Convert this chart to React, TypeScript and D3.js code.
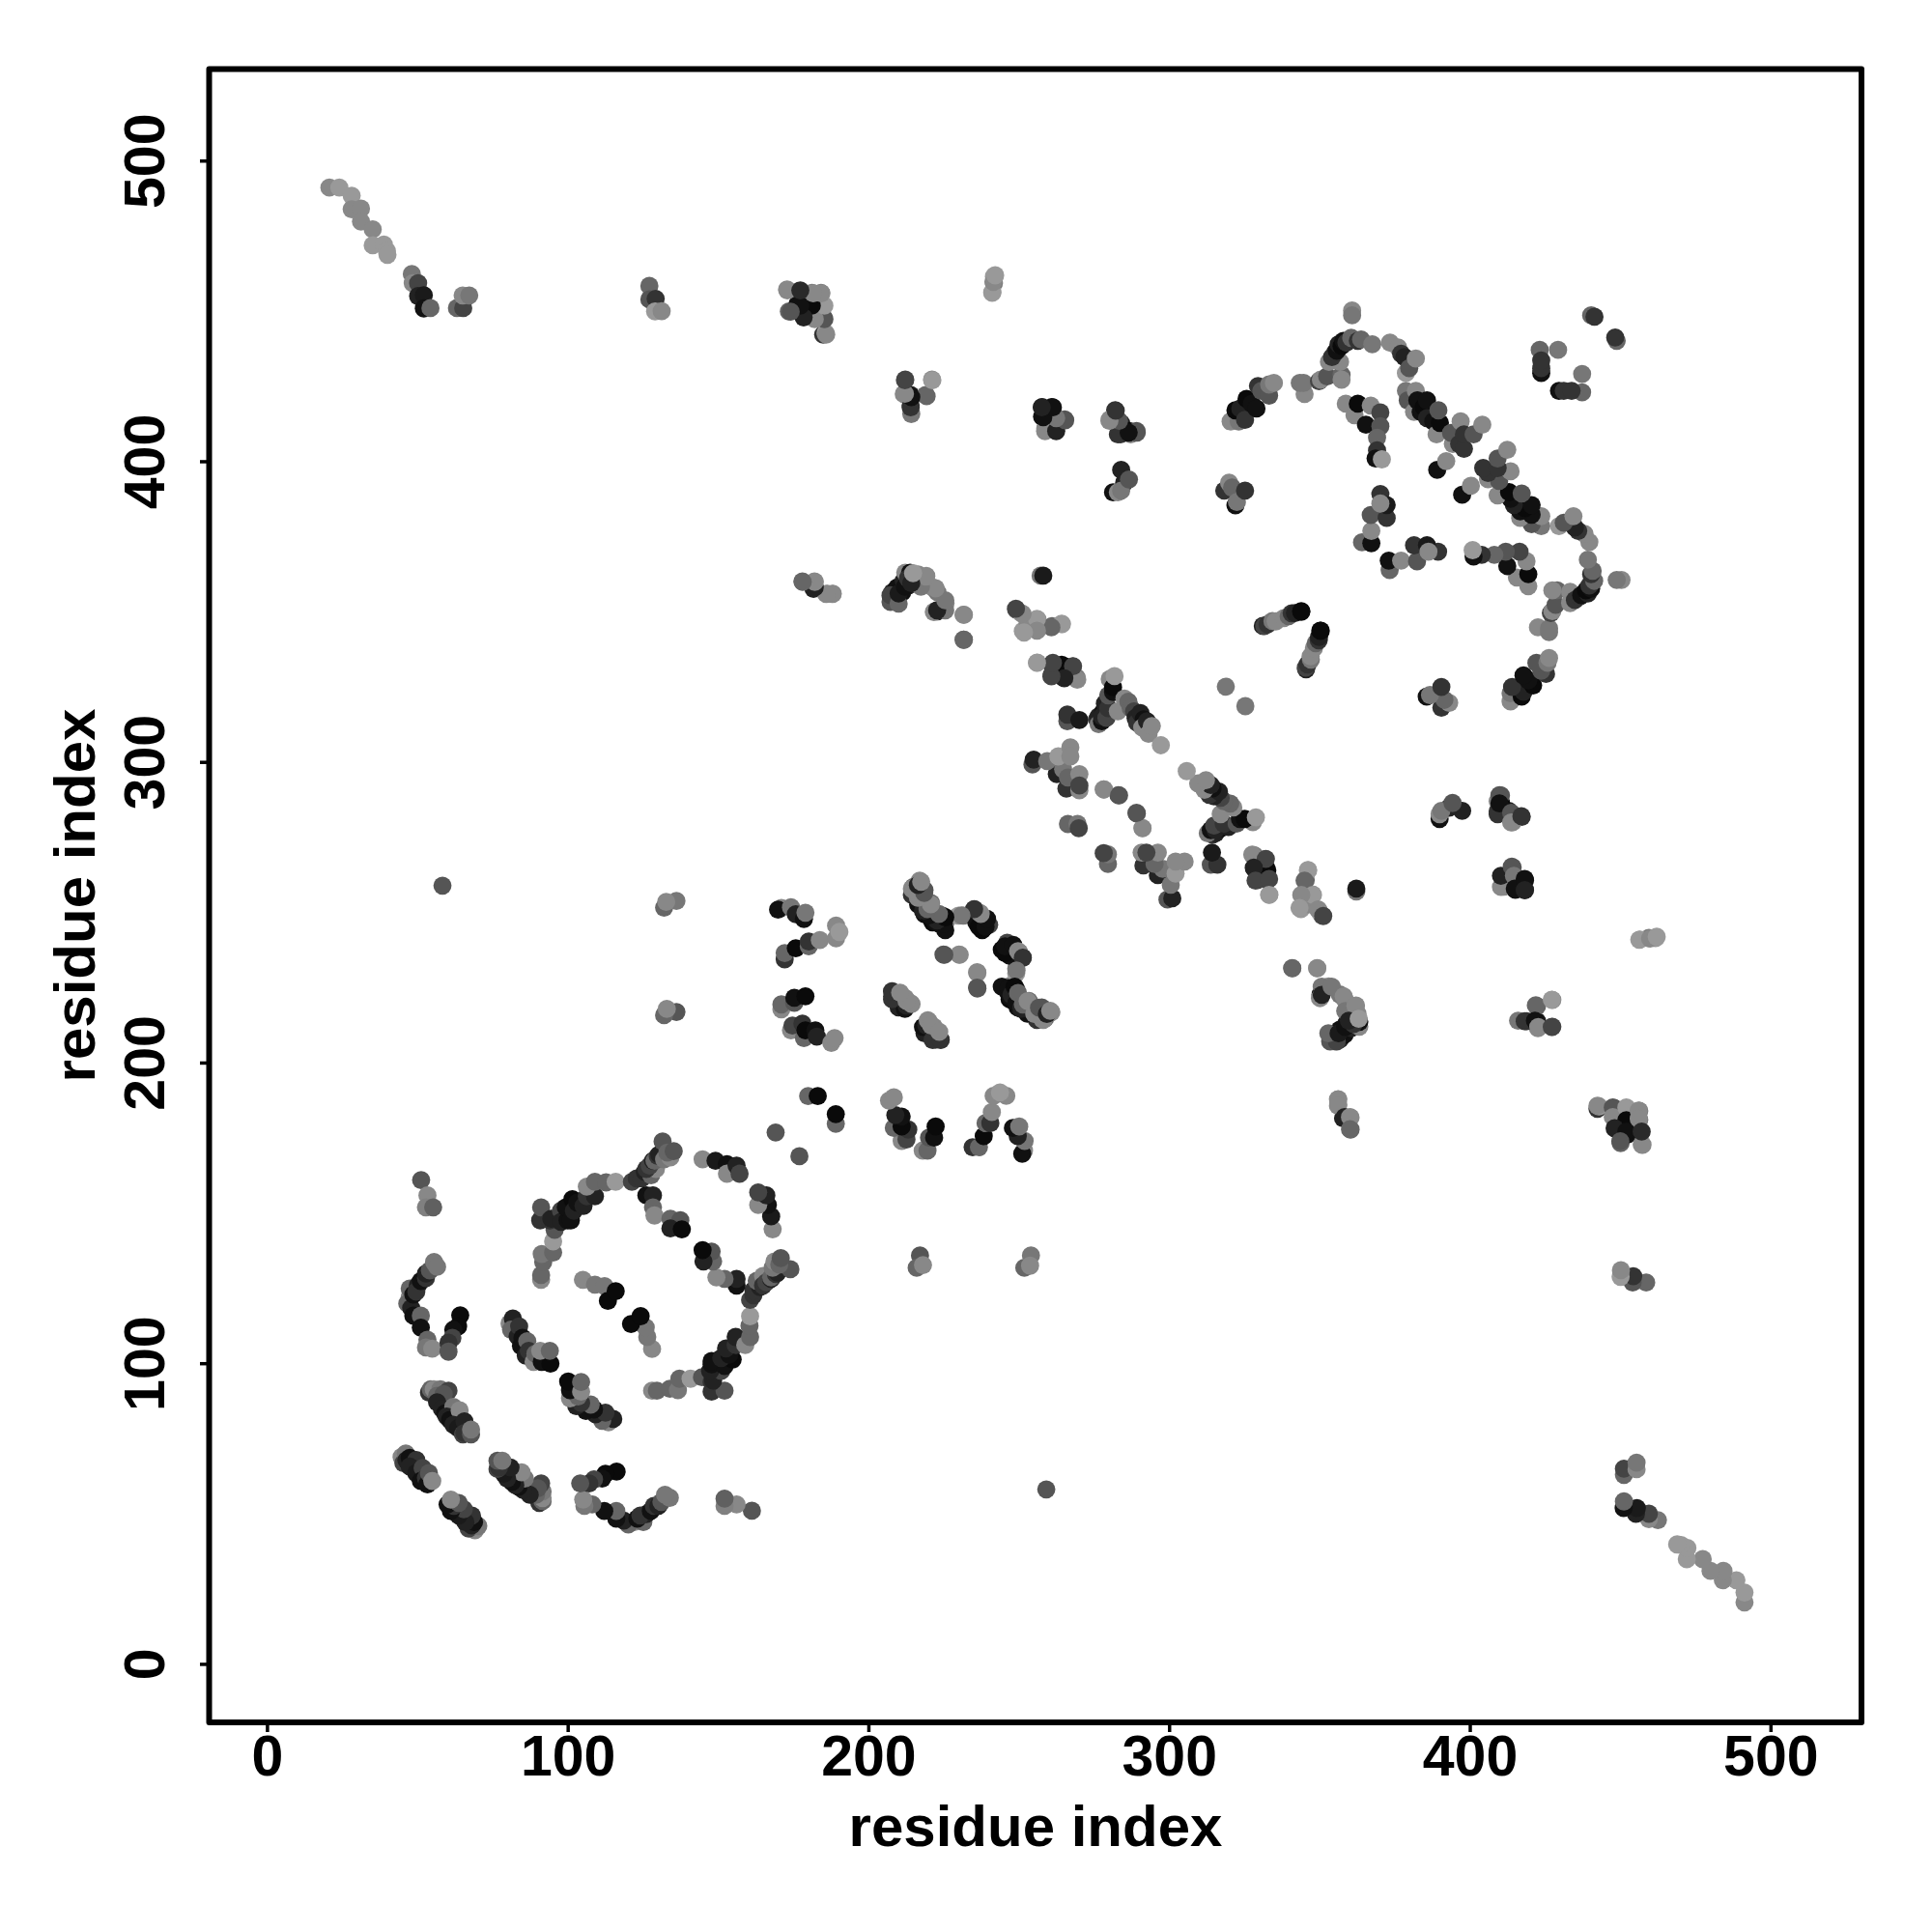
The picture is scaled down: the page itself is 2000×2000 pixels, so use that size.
import React from "react";
import * as d3 from "d3";

type Contact = [number, number, number];

const axisTicks = [0, 100, 200, 300, 400, 500];
const axisTitle = "residue index";

// [residue i, residue j, grey level]; the map is symmetric, each pair shows at (i,j) and (j,i)
const nTermEnds: Contact[] = [
  [20.6,491.2,0x88],[23.9,491.2,0x99],[28,488.5,0x99],[28,484,0x88],[31.1,484.2,0x88],[31.1,479.9,0x88],[35,477.3,0x88],[35,472,0x99],[38.7,472.2,0x99],[39.7,470.1,0x99],[39.9,468.8,0x99],
  [48,462.4,0x77],[48.3,459.4,0x88],[50.1,459.4,0x44],[50.1,455.1,0x22],[52,455.4,0x1a],[52,451,0x11],[54.2,451.1,0x66],
  [63,451.1,0x66],[65.1,451.1,0x44],[64.9,455.3,0x88],[67.1,455.3,0x77],
  [127,458.5,0x66],[127,454,0x55],[129.1,454.2,0x33],[128.9,450,0x99],[131.1,450.1,0x88],
  [58.2,259,0x55],
];
const clusterA: Contact[] = [[51.1,161.1,0x55],[53.2,156,0x88],[52.7,152,0x80],[55.1,152,0x60]];
const clusterB: Contact[] = [
  [47.3,122,0x88],[46.5,120,0x66],[47.8,118.5,0x22],[47.3,125,0x66],[48.5,123,0x11],[50,126,0x22],[49.5,124,0x33],[51,127.5,0x11],[52.7,128.5,0x33],[52.7,130,0x22],[54,131,0x55],[55.4,133.8,0x77],[56.4,132.2,0x77],
  [48.5,116,0x11],[51,116,0x66],[51,112,0x11],[53.2,108,0x66],[52.7,105.4,0x77],[54.8,105,0x88],
  [64.1,116.1,0x0a],[63.4,112.4,0x0a],[61.8,111.3,0x11],[61.5,108.6,0x44],[60.2,107,0x33],[60.2,104,0x55],
];
const ringLeft: Contact[] = [
  [91,127.9,0x88],[91,129.5,0x66],[91.7,133.8,0x66],[91.2,136.5,0x77],[95,137,0x66],[95,140.7,0x99],[95.5,144.5,0x55],[90.7,147.7,0x33],[91,152,0x55],[93.9,147.7,0x33],[94.4,148.2,0x22],[97.6,150.9,0x44],[97.6,147.2,0x22],[99.8,147.7,0x11],[99.2,152,0x11],[100.9,147.7,0x11],[101.4,154.7,0x0a],[101.9,150.9,0x22],[103,153.6,0x11],[105.1,152.5,0x22],[106.2,155.7,0x33],[108.9,155.7,0x22],[106.2,158.9,0x88],[108.9,160.5,0x66],[112.6,160.3,0x66],[115.8,160.5,0x99],
];
const ringTop: Contact[] = [
  [121.2,160.5,0x44],[122.8,161.6,0x33],[124.4,161.6,0x33],[125.5,163.8,0x22],[127.6,162.7,0x66],[129.2,164.8,0x88],[126,164.8,0x33],[127.1,165.9,0x44],[128.2,167.5,0x22],[128.7,167.5,0x66],[129.8,169.1,0x33],[130.3,169.6,0x22],[131.4,173.9,0x55],[131.9,168,0x77],[134,168.6,0x88],[133,170.2,0x66],[135.1,170.7,0x55],
  [126,156,0x11],[128.2,156,0x22],[128.2,152,0x66],[128.7,149.3,0x88],[134,148.2,0x66],[137.3,147.7,0x55],[134,145,0x22],[137.8,144.7,0x0a],
  [144.7,168,0x88],[149,167.5,0x1a],[152.8,166.4,0x11],[152.8,163.2,0x88],[156,165.9,0x22],[157,163.2,0x44],
  [169,176.9,0x55],
];
const strandD: Contact[] = [
  [53.7,90.4,0x33],[54.3,91.5,0x66],[55.3,91.5,0x88],[57.5,91.5,0x77],[56.4,89.3,0x66],[60.2,91,0x44],[58.6,89.9,0x55],[56.4,87.2,0x22],[58,85,0x22],[59.1,83.5,0x11],[61.8,85.6,0x77],[59.6,82.4,0x22],[63.4,82.4,0x33],[60.7,81.3,0x11],[63.9,84.5,0x88],[61.8,79.7,0x22],[63.4,78.6,0x1a],[65.5,80.8,0x22],[65,76.5,0x44],[65.5,77,0x33],[67.7,76.5,0x55],[67.7,78.1,0x77],
];
const strandE: Contact[] = [
  [44.6,69,0x88],[45.2,66.9,0x44],[46,70.1,0x77],[46.2,67.9,0x22],[47.3,68.7,0x11],[48.4,65.2,0x11],[49.5,68,0x33],[47.3,65.8,0x22],[50.5,62.6,0x22],[49.5,63.6,0x1a],[51.6,65.3,0x44],[51,61,0x11],[52.7,62,0x33],[53.2,59.9,0x11],[53.7,63.6,0x55],[54.8,61,0x88],
];
const strandF: Contact[] = [
  [80.5,113.4,0x88],[81.6,115,0x22],[81,111.3,0x66],[83.2,109.1,0x22],[83.7,112.4,0x33],[84.3,105.9,0x11],[84.8,108.6,0x11],[85.9,102.7,0x22],[86.4,107.5,0x66],[86.9,104.3,0x33],[88.5,100.6,0x88],[89.1,103.3,0x66],[91.2,100.6,0x11],[94.1,100,0x0a],[90.7,104.3,0x88],[93.9,104.3,0x66],
];
const strandG: Contact[] = [
  [104.9,127.9,0x88],[108.9,126.3,0x77],[112.1,125.8,0x77],[113.2,120.9,0x0a],[115.8,124.1,0x0a],
];
const block170: Contact[] = [
  [170.9,251.6,0x88],[169.8,251,0x11],[174.1,251.8,0x77],[175.7,249.5,0x22],[178.4,247.9,0x11],[178.9,250,0x77],
  [172,234.5,0x33],[172,236.6,0x66],[175.7,238.2,0x0a],[180,238.8,0x66],[180,240.4,0x33],[183.7,240.9,0x88],[189.1,241.5,0x88],[189.1,245.7,0x88],[190.2,243.6,0x99],
  [170.9,217.9,0x88],[170.9,219.5,0x66],[175.2,220,0x55],[175.2,221.7,0x11],[178.9,222.2,0x0a],
  [174.1,210.9,0x88],[174.6,212.5,0x44],[177.9,213.1,0x33],[178.4,208.3,0x66],[178.9,210.9,0x0a],[182.2,210.9,0x11],[182.7,208.8,0x22],[187.5,206.7,0x88],[188.6,208.3,0x88],
  [179.8,189,0x66],[183,189,0x0a],
];
const strand210: Contact[] = [
  [207.8,222.2,0x11],[207.8,223.8,0x55],[209.4,220.6,0x11],[210.5,219.5,0x22],[210,223.2,0x88],[212.1,218.4,0x11],[212.1,221.6,0x88],[213.7,220,0x88],
  [218.5,209.9,0x22],[218,212,0x11],[219.1,212.5,0x22],[221.2,207.7,0x33],[223.9,207.7,0x33],[219.6,214.2,0x88],[220.7,212.5,0x88],[223.4,210.4,0x88],
];
const strand215: Contact[] = [
  [214.3,255.9,0x33],[214.8,258.6,0x66],[214.3,258,0x88],[216.9,260.7,0x88],[216.4,252.7,0x11],[218.5,257.5,0x55],[218.5,249.5,0x11],[218,250.6,0x22],[220.7,247.9,0x11],[221.2,246.8,0x0a],[220.7,253.2,0x66],[223.4,246.3,0x11],[224.4,249,0x0a],[225.7,247.1,0x88],[229.8,249,0x99],[231.4,249,0x77],
  [234.6,249,0x33],[235.1,251.1,0x22],[235.7,246.8,0x11],[236.8,246.3,0x11],[236.8,250,0x77],[238.4,245.2,0x11],[238.9,247.9,0x0a],[240,246,0x44],
  [244.2,237.7,0x0a],[245.3,236.6,0x0a],[245.3,238.8,0x11],[248,239.3,0x11],[249.6,237.2,0x88],[251.2,235,0x33],[249.1,230.8,0x77],
  [244.2,225.4,0x11],[246.4,224.9,0x11],[246.9,222.2,0x11],[247.4,222.7,0x22],[248.5,225.4,0x0a],[249.1,220,0x11],[249.6,223.3,0x66],[250.7,218.4,0x22],[251.2,219.5,0x66],[252.8,220.6,0x88],[255,216.3,0x88],[257.6,214.7,0x88],[256.6,218.4,0x55],[259.2,216.3,0x22],[260.3,217.4,0x88],
  [224.8,236.1,0x55],[230,236.1,0x88],[236,230.2,0x88],[236,225.1,0x55],
];
const pairs130: Contact[] = [
  [136,217,0x55],[131.9,215.9,0x66],[132.8,218,0x88],[131.9,251.7,0x66],[136,253.9,0x77],[132.6,253.6,0x88],
];
const block250: Contact[] = [
  [257.1,362.1,0x77],[258,362.1,0x1a],
  [249.1,350.7,0x55],[250.7,349.6,0x99],[251.2,343.7,0x99],[252.8,346.4,0x88],[256.1,347.5,0x88],[255.5,344.3,0x88],[260.9,345.3,0x66],[264.1,346.1,0x99],
  [256,333.2,0x99],[260.9,329.3,0x44],[260.9,332.5,0x44],[264.6,328.2,0x22],[264.1,332.5,0x0a],[267.8,331.9,0x55],[269.1,328.2,0x77],
  [266,313.7,0x55],[266,315.9,0x33],[270,314.1,0x1a],
];
const strand275: Contact[] = [
  [275.9,314.3,0x33],[276.4,315.3,0x22],[276.4,312.7,0x77],[277.5,313.7,0x11],[278,317,0x11],[277.5,315.3,0x22],[278.5,319.6,0x22],[279,314.8,0x44],[279.6,318,0x33],[279.6,322.3,0x55],[281.2,323.4,0x11],[280.1,327.7,0x88],[281.2,325,0x0a],[281.7,328.7,0x99],[282.8,317,0x88],[285,321.2,0x88],[286.3,320.2,0x66],[287.1,318,0x66],[288.2,317,0x44],[288.7,314.8,0x22],[289.2,313.2,0x33],[290.3,316.4,0x22],[291.4,314.3,0x11],[290.9,311.6,0x88],[292.5,313.7,0x22],[293,309.5,0x88],[294.1,312.1,0x88],[297.1,305.7,0x99],
];
const block255: Contact[] = [
  [254.4,299.3,0x55],[254.8,300.9,0x22],[262.5,296.1,0x22],[259.3,300.4,0x77],[264.6,297.7,0x77],[263,302,0x99],[267,305,0x88],[267,302,0x88],[265.7,291.3,0x33],[266.2,295,0x66],[270,296.1,0x88],[270,290.7,0x88],[270,292.3,0x44],
  [278.2,291,0x99],[283,289.1,0x55],[291,278.1,0x88],[289,283.2,0x55],
  [266.2,279.5,0x66],[269.4,279.5,0x77],[269.8,278.1,0x44],
  [265,332,0x0a],[269.3,327.5,0x88],[267.9,332,0x44],[265,328,0x22],[260.7,328.6,0x44],[261.2,333.1,0x44],[255.9,333.1,0x99],
  [264.2,346,0x99],[260.7,344.9,0x66],[255.9,347.7,0x99],[255.9,343.8,0x88],[251.6,343.2,0x99],[251.1,349.4,0x88],[248.9,351.1,0x44],
];
const strand330: Contact[] = [
  [331,345.4,0x22],[331.5,345.3,0x44],[332.6,345.9,0x33],[334.2,347,0x77],[335.3,346.9,0x88],[338,348,0x88],[339.6,348.6,0x66],[340.6,349.6,0x33],[341.7,349.7,0x22],[343.8,350.3,0x0a],[343.8,350.1,0x0a],[318.7,325.2,0x77],
];
const block320: Contact[] = [
  [320.3,413.4,0x88],[323,413.4,0x77],[321.9,417.1,0x0a],[323.5,417.7,0x22],[325.1,413.9,0x33],[325.6,420.9,0x0a],[327.3,419.3,0x11],[328.9,417.7,0x11],[329.4,425.2,0x33],[330.5,423.6,0x55],[333.1,422,0x55],[333.1,425.7,0x77],[334.7,426.2,0x88],
  [344.9,422.5,0x88],[343.3,426.2,0x77],[344.6,426.2,0x77],[349.7,426.8,0x44],[350.3,427.3,0x88],[352.4,428.4,0x55],[357.2,428.9,0x66],[357.2,427.3,0x88],[353,433.2,0x88],[356.7,433.2,0x88],[354,434.8,0x33],[355.1,436.4,0x33],[355.6,436.9,0x11],[356.2,439.1,0x22],[357.2,438.5,0x0a],[357.8,440.2,0x11],[358.8,439.6,0x33],[360.4,441.2,0x66],[362.6,440.2,0x33],[363.7,440.7,0x66],[367.4,439.1,0x77],[360.7,450.3,0x88],[360.7,448.7,0x77],
  [373.3,439.6,0x88],[376,438,0x88],[378.6,429.5,0x99],[377,435.9,0x33],[378.1,434.8,0x22],[379.7,431.1,0x55],[381.9,434.3,0x88],
];
const strand380: Contact[] = [
  [378.6,423.6,0x77],[379.2,420.4,0x55],[381.9,423.6,0x88],[381.3,416.6,0x88],[382.4,420.4,0x11],[383.5,416.6,0x11],[384.5,418.2,0x0a],[385.6,420.4,0x11],[385.6,414.5,0x22],[387.7,413.4,0x11],[388.8,409.1,0x88],[389.9,412.9,0x0a],[389.4,417.1,0x55],[394.2,405.9,0x88],[393.6,409.6,0x55],[396.3,405.9,0x33],[396.8,413.4,0x88],[397.9,404.3,0x33],[397.9,409.1,0x33],[401.1,409.1,0x55],[404,412.3,0x88],
  [389,397.3,0x11],[392,400.2,0x88],
];
const inner360: Contact[] = [
  [358.6,419.3,0x88],[361.5,415.5,0x88],[362.6,419.3,0x0a],[365.3,412.3,0x11],[366.9,418.7,0x88],[370.1,416.4,0x44],[370.1,411.8,0x55],[369,408,0x66],[369,403.8,0x33],[368.5,401.1,0x11],[370.6,400.8,0x99],
  [364,373.2,0x66],[367.1,372.9,0x11],[367.1,377,0x88],[366.9,382.3,0x55],[372.2,381.3,0x33],[370.1,389.3,0x33],[372.2,385.6,0x1a],[370.1,386.1,0x88],
];
const block420: Contact[] = [
  [440.2,448.7,0x66],[441.3,448.2,0x33],
  [423.1,437.2,0x66],[429.2,437.2,0x77],[423.6,429.5,0x11],[423.6,431.1,0x33],[423.6,433.7,0x33],
];
const block175: Contact[] = [
  [172.8,457.3,0x88],[173.4,450,0x66],[176.8,456.7,0x33],[176.3,452.5,0x11],[177.9,454,0x11],[177.9,449.2,0x22],[181.1,456.2,0x77],[184.1,456.2,0x77],[184.8,452.2,0x99],[181.1,448.9,0x88],[185,447.9,0x55],[184.8,442.3,0x33],[185.6,442.8,0x99],
  [241.6,459.4,0x77],[241.6,461.6,0x99],[241,456.2,0x99],
];
const block212: Contact[] = [
  [212.1,427.3,0x44],[221,427.3,0x88],[211.6,422.5,0x88],[213.9,418.7,0x33],[213.9,422.2,0x1a],[218.9,422.2,0x66],
  [257.6,418.2,0x22],[260.8,418.2,0x11],[257.6,415,0x11],[258.7,411.2,0x88],[261.9,411.5,0x22],[261.9,415,0x77],[265.1,414.1,0x55],
  [281.9,417.1,0x33],[280.1,414.1,0x88],[282.2,413.9,0x66],[282.8,409.1,0x33],[283.9,412.8,0x22],[287.1,409.1,0x88],[286.5,410.2,0x0a],[289,410.2,0x55],
  [283.9,397.3,0x22],[281.2,389.8,0x11],[282.8,389.8,0x88],[284.9,393,0x22],[283.9,390.4,0x77],[286.5,394.1,0x55],
  [318.2,390.4,0x33],[319.8,393,0x88],[320.8,391.4,0x66],[321.9,385.5,0x11],[322.4,386.6,0x77],[325.1,390.4,0x33],
];
const block180: Contact[] = [
  [177.9,360.2,0x66],[181.6,357.7,0x22],[181.9,360.2,0x88],[186.2,356.1,0x88],[188,356.1,0x88],
  [207.3,355,0x55],[208.9,355,0x44],[207.8,356.6,0x22],[208.9,353.4,0x66],[209.4,358.2,0x11],[210,356.6,0x11],[211.6,360.4,0x22],[211.1,356.6,0x11],[212.1,363.1,0x88],[213.2,358.8,0x22],[213.7,363.1,0x11],[215.3,362,0x66],[216.4,362.5,0x88],[219.1,362,0x88],[221.2,358.2,0x88],[222.8,356.6,0x77],[222.8,350.2,0x22],[221.8,350.2,0x88],[225.5,352.9,0x88],[231.6,349.1,0x88],[231.6,340.8,0x66],
];
const cTermTail: Contact[] = [
  [283.7,409.1,0x33],[289.1,409.7,0x55],[286.4,409.7,0x11],[283.2,413.6,0x55],[280,413.6,0x88],[282.1,417,0x33],
  [258.6,410.2,0x88],[262.3,410.2,0x22],[265.3,413.8,0x55],[262.3,414.5,0x77],[258,414.8,0x11],[261.2,418.1,0x11],[257.5,418.1,0x22],
  [241.1,456.4,0x99],[241.4,459.8,0x88],[242,462,0x99],
  [219.2,421.8,0x66],[221.1,427.1,0x99],[214.1,415.9,0x77],[213.9,418.1,0x33],[214.1,421.5,0x11],[212,422.6,0x88],[212,427.1,0x44],
  [185.8,442.3,0x88],[185.2,447.4,0x55],[182,447.4,0x88],[185.2,451.9,0x99],[181,451.9,0x0a],[178.3,448,0x22],[177.2,451.9,0x11],[174,449.9,0x55],[172.9,457,0x88],[184.2,456,0x88],[181.5,456,0x88],[177.2,457,0x2a],
  [187.9,356,0x88],[185.8,356,0x88],[182,358.2,0x22],[182,360,0x88],[178,360,0x66],
  [231.5,340.8,0x66],[231.5,349.1,0x88],
  [221.6,350,0x88],[225.4,350.6,0x77],[222.7,350.6,0x22],[225.4,353.9,0x77],[222.2,357.9,0x88],[217.3,358.4,0x77],[219,361.8,0x88],[207.2,353.4,0x55],[207.2,355.6,0x44],[209.9,352.8,0x66],[209.9,356.2,0x1a],[212,358.4,0x11],[213,361.2,0x33],[214.1,359.6,0x22],[214.7,362.9,0x99],
];

const allContacts: Contact[] = [
  ...nTermEnds, ...clusterA, ...clusterB, ...ringLeft, ...ringTop, ...strandD, ...strandE, ...strandF, ...strandG,
  ...block170, ...strand210, ...strand215, ...pairs130, ...block250, ...strand275, ...block255, ...strand330,
  ...block320, ...strand380, ...inner360, ...block420, ...block175, ...block212, ...block180, ...cTermTail,
];

const x = d3.scaleLinear().domain([-19.4, 530.1]).range([216.5, 1927]);
const y = d3.scaleLinear().domain([-19.3, 530.6]).range([1783, 71.5]);
const font = "'Liberation Sans', Arial, Helvetica, sans-serif";
const grey = (g: number) => d3.rgb(g, g, g).formatHex();

export default function App() {
  return (
    <svg width={2000} height={2000} style={{ position: "absolute", left: 0, top: 0, background: "#fff" }} fontFamily={font} fontWeight="bold" fontSize={60} fill="#000">
      {allContacts.map(([i, j, g], k) => (
        <g key={k} fill={grey(g)}>
          <circle cx={x(i)} cy={y(j)} r={9.4} />
          <circle cx={x(j)} cy={y(i)} r={9.4} />
        </g>
      ))}
      <rect x={216.5} y={71.5} width={1710.5} height={1711.5} fill="none" stroke="#000" strokeWidth={6} strokeLinejoin="round" />
      {axisTicks.map((t) => (
        <g key={t}>
          <line x1={x(t)} x2={x(t)} y1={1783} y2={1793} stroke="#000" strokeWidth={3.5} />
          <text x={x(t)} y={1838} textAnchor="middle" fontSize={59}>{t}</text>
          <line x1={216.5} x2={207} y1={y(t)} y2={y(t)} stroke="#000" strokeWidth={3.5} />
          <text transform={`translate(170,${y(t)}) rotate(-90)`} textAnchor="middle" fontSize={59}>{t}</text>
        </g>
      ))}
      <text x={1072} y={1911} textAnchor="middle">{axisTitle}</text>
      <text transform={`translate(98,927) rotate(-90)`} textAnchor="middle">{axisTitle}</text>
    </svg>
  );
}
